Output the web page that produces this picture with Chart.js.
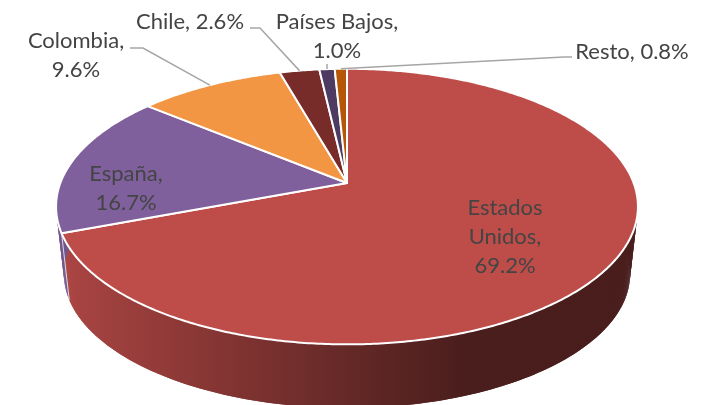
<!DOCTYPE html>
<html lang="es">
<head>
<meta charset="utf-8">
<title>Destinos</title>
<script src="https://cdn.jsdelivr.net/npm/chart.js@4/dist/chart.umd.min.js"></script>
<style>
  html, body { margin: 0; padding: 0; background: #fff; overflow: hidden; }
  canvas { display: block; }
</style>
</head>
<body>
<canvas id="pie" width="702" height="405"></canvas>
<script>
const categories = ['Estados Unidos', 'España', 'Colombia', 'Chile', 'Países Bajos', 'Resto'];
const shares = [69.2, 16.7, 9.6, 2.6, 1.0, 0.8];
const sliceColors = ['#BE4D4A', '#7F609C', '#F39644', '#772C2A', '#4D3B62', '#B65708'];

// label placement: centre x, first line centre y, wrap mode, optional leader elbow points
const labelSpots = [
    { x: 505, y: 208, wrap: 'words' },
    { x: 126, y: 174, wrap: 'pct' },
    { x: 76, y: 41, wrap: 'pct', leader: [[130, 48], [143, 48]] },
    { x: 190, y: 22, wrap: 'none', leader: [[250, 28], [260, 28]] },
    { x: 337, y: 22, wrap: 'pct', leader: [[327, 64]] },
    { x: 632, y: 52, wrap: 'none', leader: [[572, 57], [564, 57]] }
];
const lineGap = 29;

// perspective of the tilted disc, relative to the radius chart.js gives us
const tilt = 0.171;
const stretchX = 1.575;
const stretchY = 0.735;
const depth = 68;
const lowerScale = 0.973;

function project(arc, angle, lower) {
    const a = angle + Math.PI / 2;
    const px = Math.sin(a);
    const py = -Math.cos(a);
    const w = 1 - tilt * py;
    const s = lower ? lowerScale : 1;
    return [
        arc.x + s * stretchX * arc.outerRadius * px / w,
        arc.y + (lower ? depth : 0) + s * stretchY * arc.outerRadius * py / w
    ];
}

function rimPoints(arc, from, to, lower) {
    const pts = [];
    const steps = Math.max(2, Math.ceil((to - from) / 0.01));
    for (let i = 0; i <= steps; i++) {
        pts.push(project(arc, from + (to - from) * i / steps, lower));
    }
    return pts;
}

class TiltedArc extends Chart.ArcElement {
    static id = 'tiltedArc';
    draw(ctx) {
        const { startAngle, endAngle } = this.getProps(['startAngle', 'endAngle']);
        ctx.save();
        ctx.beginPath();
        ctx.moveTo(this.x, this.y);
        rimPoints(this, startAngle, endAngle, false).forEach(p => ctx.lineTo(p[0], p[1]));
        ctx.closePath();
        ctx.fillStyle = this.options.backgroundColor;
        ctx.fill();
        ctx.strokeStyle = this.options.borderColor;
        ctx.lineWidth = this.options.borderWidth;
        ctx.lineJoin = 'round';
        ctx.stroke();
        ctx.restore();
    }
}

class TiltedPieController extends Chart.PieController {
    static id = 'tiltedPie';
    static defaults = { dataElementType: 'tiltedArc' };
}

function shade(hex, f) {
    const n = parseInt(hex.slice(1), 16);
    return `rgb(${Math.round((n >> 16 & 255) * f)},${Math.round((n >> 8 & 255) * f)},${Math.round((n & 255) * f)})`;
}

// side wall goes under the slices
const wallPlugin = {
    id: 'wall',
    beforeDatasetsDraw(chart) {
        const ctx = chart.ctx;
        const frontFrom = -0.4;
        const frontTo = Math.PI * 1.1;
        chart.getDatasetMeta(0).data.forEach((arc, i) => {
            const from = Math.max(arc.startAngle, frontFrom);
            const to = Math.min(arc.endAngle, frontTo);
            if (to <= from) return;
            const upper = rimPoints(arc, from, to, false);
            const lower = rimPoints(arc, from, to, true);
            const g = ctx.createLinearGradient(60, 0, 640, 0);
            [[0, 0.9], [0.24, 0.72], [0.55, 0.49], [0.7, 0.39], [1, 0.38]].forEach(s => {
                g.addColorStop(s[0], shade(sliceColors[i], s[1]));
            });
            ctx.fillStyle = g;
            // sweep it in overlapping strips so the outline follows the silhouette on both sides
            for (let n = 0; n < upper.length - 1; n++) {
                const m = Math.min(n + 2, upper.length - 1);
                ctx.beginPath();
                ctx.moveTo(upper[n][0], upper[n][1]);
                ctx.lineTo(upper[m][0], upper[m][1]);
                ctx.lineTo(lower[m][0], lower[m][1]);
                ctx.lineTo(lower[n][0], lower[n][1]);
                ctx.closePath();
                ctx.fill();
            }
            // thin light seam where two walls meet
            if (arc.startAngle > frontFrom) {
                const top = project(arc, arc.startAngle, false);
                const bottom = project(arc, arc.startAngle, true);
                ctx.beginPath();
                ctx.moveTo(top[0], top[1]);
                ctx.lineTo(bottom[0], bottom[1]);
                ctx.strokeStyle = 'rgba(255,255,255,0.75)';
                ctx.lineWidth = 1;
                ctx.stroke();
            }
        });
    }
};

const labelPlugin = {
    id: 'sliceLabels',
    afterDatasetsDraw(chart) {
        const ctx = chart.ctx;
        const arcs = chart.getDatasetMeta(0).data;
        ctx.save();
        labelSpots.forEach((spot, i) => {
            if (spot.leader) {
                const arc = arcs[i];
                const end = project(arc, (arc.startAngle + arc.endAngle) / 2, false);
                ctx.beginPath();
                spot.leader.concat([end]).forEach((p, j) => j ? ctx.lineTo(p[0], p[1]) : ctx.moveTo(p[0], p[1]));
                ctx.strokeStyle = '#A6A6A6';
                ctx.lineWidth = 1.5;
                ctx.stroke();
            }
            const pct = shares[i].toFixed(1) + '%';
            let lines;
            if (spot.wrap === 'words') lines = (categories[i] + ',').split(' ').concat(pct);
            else if (spot.wrap === 'pct') lines = [categories[i] + ',', pct];
            else lines = [categories[i] + ', ' + pct];
            ctx.font = '22px Lato, "Open Sans", sans-serif';
            ctx.fillStyle = '#444444';
            ctx.textAlign = 'center';
            ctx.textBaseline = 'middle';
            lines.forEach((t, j) => ctx.fillText(t, spot.x, spot.y + j * lineGap));
        });
        ctx.restore();
    }
};

Chart.register(TiltedArc, TiltedPieController);

new Chart(document.getElementById('pie').getContext('2d'), {
    type: 'tiltedPie',
    data: {
        labels: categories,
        datasets: [{
            data: shares,
            backgroundColor: sliceColors,
            borderColor: '#ffffff',
            borderWidth: 2
        }]
    },
    options: {
        responsive: false,
        animation: false,
        layout: { padding: { left: 56, right: 64, top: 0, bottom: 39 } },
        plugins: { legend: { display: false }, tooltip: { enabled: false } }
    },
    plugins: [wallPlugin, labelPlugin]
});
</script>
</body>
</html>
